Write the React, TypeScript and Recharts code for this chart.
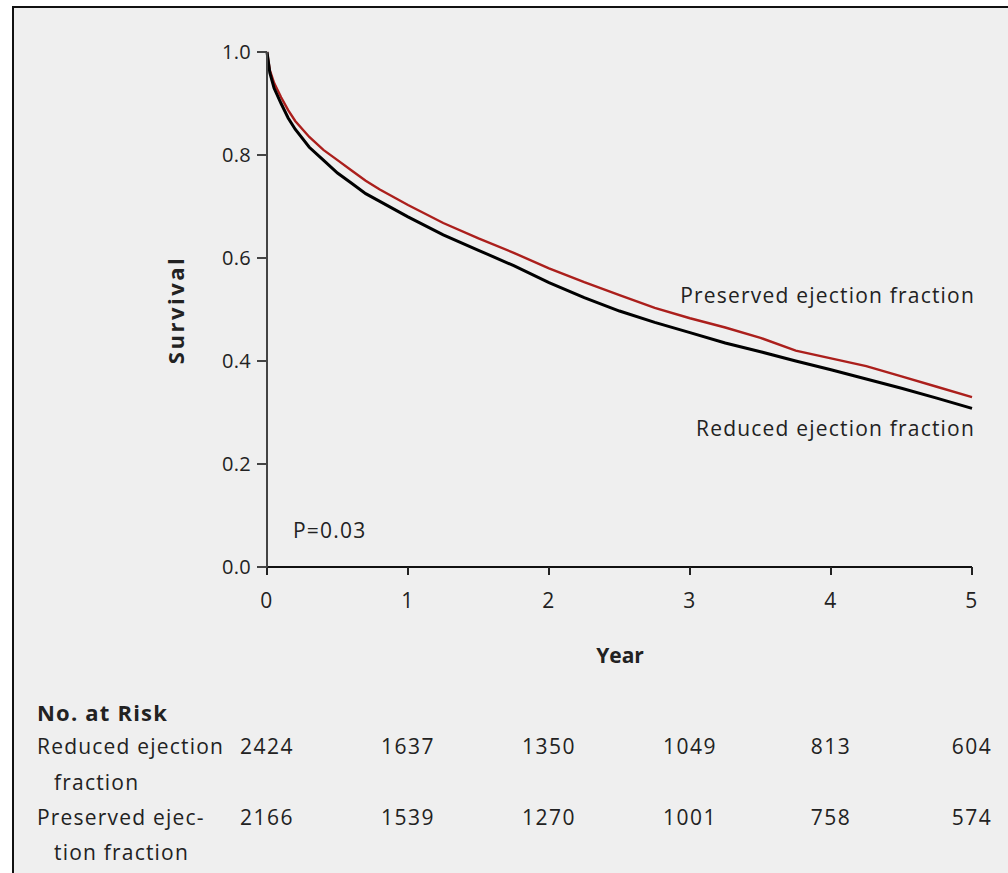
import { LineChart, Line, XAxis, YAxis } from 'recharts'

// Kaplan-Meier survival by ejection fraction group
const YEARS = [0, 1, 2, 3, 4, 5]
const SURV_TICKS = [0, 0.2, 0.4, 0.6, 0.8, 1.0]
const TIME = [0, 0.02, 0.05, 0.1, 0.15, 0.2, 0.3, 0.4, 0.5, 0.6, 0.7, 0.8, 0.9, 1.0, 1.25, 1.5, 1.75, 2.0, 2.25, 2.5, 2.75, 3.0, 3.25, 3.5, 3.75, 4.0, 4.25, 4.5, 4.75, 5.0]
const REDUCED = [1.0, 0.96, 0.93, 0.9, 0.872, 0.85, 0.815, 0.79, 0.765, 0.745, 0.725, 0.71, 0.695, 0.68, 0.645, 0.615, 0.585, 0.552, 0.523, 0.497, 0.475, 0.455, 0.435, 0.418, 0.4, 0.383, 0.365, 0.347, 0.328, 0.308]
const PRESERVED = [1.0, 0.965, 0.94, 0.912, 0.887, 0.866, 0.835, 0.81, 0.79, 0.77, 0.75, 0.733, 0.718, 0.703, 0.668, 0.638, 0.61, 0.58, 0.553, 0.528, 0.503, 0.483, 0.465, 0.445, 0.42, 0.405, 0.39, 0.37, 0.35, 0.33]
const RISK_REDUCED = [2424, 1637, 1350, 1049, 813, 604]
const RISK_PRESERVED = [2166, 1539, 1270, 1001, 758, 574]

const FONT = '"Open Sans", "DejaVu Sans", sans-serif'
const INK = '#222'
const RED = '#ab1f1c'

const data = TIME.map((t, i) => ({ t, reduced: REDUCED[i], preserved: PRESERVED[i] }))

// year number on the axis, with the two at-risk counts stacked underneath
function YearTick(props: any) {
  const { x, y, payload } = props
  const i = YEARS.indexOf(payload.value)
  return (
    <g fontFamily={FONT} fontSize={21} fill={INK} textAnchor="middle" letterSpacing={1.5}>
      <text x={x} y={y + 21} dominantBaseline="central">{payload.value}</text>
      <text x={x} y={y + 167} dominantBaseline="central">{RISK_REDUCED[i]}</text>
      <text x={x} y={y + 238} dominantBaseline="central">{RISK_PRESERVED[i]}</text>
    </g>
  )
}

const Txt = ({ x, y, right, bold, children }: any) => (
  <div style={{
    position: 'absolute', top: y, lineHeight: 1, transform: 'translateY(-50%)', whiteSpace: 'nowrap',
    ...(right != null ? { right } : { left: x }),
    fontFamily: FONT, fontSize: bold ? 22 : 21, letterSpacing: 1.2, fontWeight: bold ? 700 : 400, color: INK,
  }}>{children}</div>
)

export default function App() {
  return (
    <div style={{ position: 'absolute', left: 0, top: 0, width: 1008, height: 873, overflow: 'hidden', background: '#fff' }}>
      <div style={{ position: 'absolute', left: 12, top: 6, right: 0, bottom: 0, background: '#efefef', borderLeft: '2px solid #111', borderTop: '2px solid #111' }} />
      <div style={{ position: 'absolute', left: 0, top: 0 }}>
        <LineChart width={1008} height={873} data={data} margin={{ top: 52, right: 36, left: 150, bottom: 0 }}>
          <XAxis dataKey="t" type="number" domain={[0, 5]} ticks={YEARS} height={306}
            axisLine={{ stroke: '#111', strokeWidth: 2 }} tickLine={{ stroke: '#222', strokeWidth: 2 }}
            tickSize={8} tickMargin={4} tick={<YearTick />} interval={0} />
          <YAxis type="number" domain={[0, 1]} ticks={SURV_TICKS} width={117}
            axisLine={{ stroke: '#444', strokeWidth: 2 }} tickLine={{ stroke: '#444', strokeWidth: 2 }}
            tickSize={10} tickMargin={6} tickFormatter={(v: number) => v.toFixed(1)}
            tick={{ fontFamily: FONT, fontSize: 20, fill: INK, letterSpacing: 0.3 }} />
          <Line type="linear" dataKey="preserved" stroke={RED} strokeWidth={2.4} dot={false} isAnimationActive={false} />
          <Line type="linear" dataKey="reduced" stroke="#000" strokeWidth={3} dot={false} isAnimationActive={false} />
        </LineChart>
      </div>

      <div style={{ position: 'absolute', left: 175, top: 310, transform: 'translate(-50%, -50%) rotate(-90deg)', fontFamily: FONT, fontSize: 22, fontWeight: 700, letterSpacing: 2.5, color: INK, lineHeight: 1 }}>Survival</div>
      <div style={{ position: 'absolute', left: 620, top: 655, transform: 'translate(-50%, -50%)', fontFamily: FONT, fontSize: 21, fontWeight: 700, color: INK, lineHeight: 1 }}>Year</div>

      <Txt x={293} y={530}>P=0.03</Txt>
      <Txt right={1008 - 975} y={295}>Preserved ejection fraction</Txt>
      <Txt right={1008 - 975} y={428}>Reduced ejection fraction</Txt>

      <Txt x={37} y={712} bold>No. at Risk</Txt>
      <Txt x={37} y={746}>Reduced ejection</Txt>
      <Txt x={54} y={782}>fraction</Txt>
      <Txt x={37} y={817}>Preserved ejec-</Txt>
      <Txt x={54} y={852}>tion fraction</Txt>
    </div>
  )
}
